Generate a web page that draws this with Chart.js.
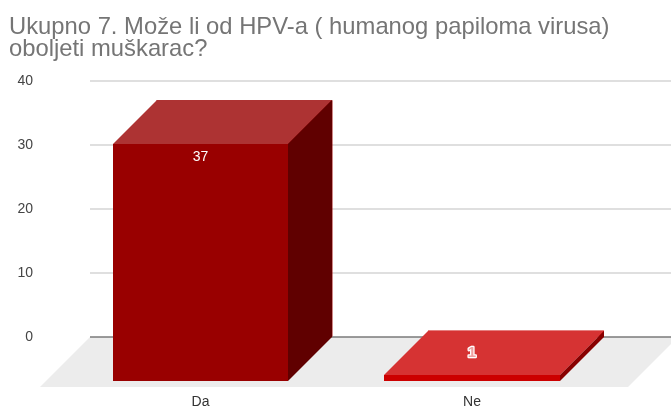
<!DOCTYPE html>
<html>
<head>
<meta charset="utf-8">
<style>
	html, body { margin: 0; padding: 0; background: #fff; }
	canvas { display: block; }
</style>
<script src="https://cdn.jsdelivr.net/npm/chart.js@4"></script>
</head>
<body>
<canvas id="chart" width="671" height="409"></canvas>
<script>
var categories = ['Da', 'Ne'];
var values = [37, 1];
var yTicks = [0, 10, 20, 30, 40];
var titleLines = ['Ukupno 7. Može li od HPV-a ( humanog papiloma virusa)', 'oboljeti muškarac?'];

var frontColors = ['#990000', '#cc0000'];
var topColors = ['#ad3333', '#d63333'];
var sideColors = ['#600000', '#880000'];
var labelDrop = [13, -22]; // from the top edge of the front face

var depthX = -44;
var depthY = 44;

var _polygon = function(ctx, points, color) {
	ctx.fillStyle = color;
	ctx.beginPath();
	ctx.moveTo(points[0][0], points[0][1]);
	for (var i = 1; i < points.length; i++) {
		ctx.lineTo(points[i][0], points[i][1]);
	}
	ctx.closePath();
	ctx.fill();
};

// floor and grid sit behind the boxes and run past the category band
var floorAndGrid = {
	id: 'floorAndGrid',
	beforeDatasetsDraw: function(chart) {
		var ctx = chart.ctx;
		var y = chart.scales.y;
		var zero = y.getPixelForValue(0);
		_polygon(ctx, [[90, zero], [671, zero], [671, zero + 7], [628, zero + 50], [40, zero + 50]], '#ececec');
		ctx.save();
		y.ticks.forEach(function(tick) {
			var py = Math.round(y.getPixelForValue(tick.value));
			ctx.strokeStyle = tick.value === 0 ? '#7a7a7a' : '#d4d4d4';
			ctx.lineWidth = 1.4;
			ctx.beginPath();
			ctx.moveTo(90, py);
			ctx.lineTo(671, py);
			ctx.stroke();
		});
		ctx.restore();
	}
};

// the library's bar is the back face, the box is built forward from it
var boxes = {
	id: 'boxes',
	afterDatasetsDraw: function(chart) {
		var ctx = chart.ctx;
		var meta = chart.getDatasetMeta(0);
		meta.data.forEach(function(bar, i) {
			var half = bar.width / 2;
			var l = Math.round(bar.x - half), r = Math.round(bar.x + half), t = Math.round(bar.y), b = Math.round(bar.base);
			_polygon(ctx, [[l, t], [r, t], [r + depthX, t + depthY], [l + depthX, t + depthY]], topColors[i]);
			_polygon(ctx, [[r, t], [r, b], [r + depthX, b + depthY], [r + depthX, t + depthY]], sideColors[i]);
			_polygon(ctx, [[l + depthX, t + depthY], [r + depthX, t + depthY], [r + depthX, b + depthY], [l + depthX, b + depthY]], frontColors[i]);
			ctx.save();
			ctx.font = '14px "Liberation Sans", Arial, sans-serif';
			ctx.textAlign = 'center';
			ctx.textBaseline = 'middle';
			ctx.lineJoin = 'round';
			if (i === 1) { // the small bar's label has a white rim in the original
				ctx.font = 'bold 15px "Liberation Sans", Arial, sans-serif';
				ctx.strokeStyle = '#ffffff';
				ctx.lineWidth = 2.5;
				ctx.strokeText(String(values[i]), bar.x + depthX, t + depthY + labelDrop[i]);
				ctx.fillStyle = '#f0a0a0';
			} else {
				ctx.fillStyle = '#ffffff';
			}
			ctx.fillText(String(values[i]), bar.x + depthX, t + depthY + labelDrop[i]);
			ctx.restore();
		});
	}
};

new Chart(document.getElementById('chart'), {
	type: 'bar',
	data: {
		labels: categories,
		datasets: [{ data: values, backgroundColor: frontColors, barPercentage: 0.648, categoryPercentage: 1 }]
	},
	options: {
		responsive: false,
		animation: false,
		layout: { padding: { left: 9, right: 19.25, top: 0, bottom: 0 } },
		plugins: {
			legend: { display: false },
			tooltip: { enabled: false },
			title: {
				display: true,
				text: titleLines,
				align: 'start',
				color: '#757575',
				font: { family: '"Liberation Sans", Arial, sans-serif', size: 23.8, weight: 'normal', lineHeight: 0.93 },
				padding: { top: 16, bottom: 20.7 }
			}
		},
		scales: {
			x: {
				grid: { display: false },
				border: { display: false },
				ticks: { color: '#333333', padding: 49, labelOffset: depthX, maxRotation: 0, font: { family: '"Liberation Sans", Arial, sans-serif', size: 14 } },
				afterFit: function(scale) { scale.height = 72; }
			},
			y: {
				min: 0,
				max: 40,
				// transparent tick marks only push the labels out to the left margin
				grid: { drawOnChartArea: false, tickLength: 72.75, tickColor: 'transparent' },
				border: { display: false },
				afterBuildTicks: function(scale) {
					scale.ticks = yTicks.map(function(v) { return { value: v }; });
				},
				ticks: { color: '#444444', padding: 3, font: { family: '"Liberation Sans", Arial, sans-serif', size: 14 } },
				afterFit: function(scale) { scale.width = 99.75; }
			}
		}
	},
	plugins: [floorAndGrid, boxes]
});
</script>
</body>
</html>
